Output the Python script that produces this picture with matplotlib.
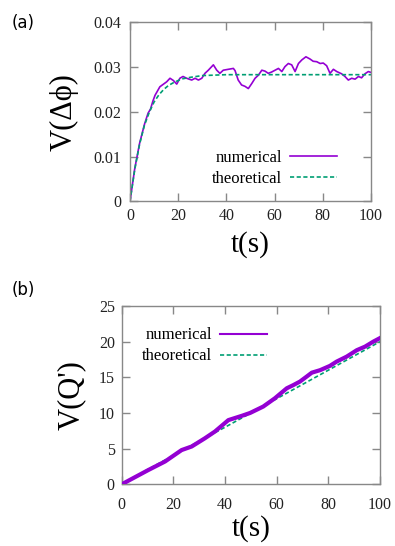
import matplotlib
matplotlib.use("Agg")
import matplotlib.pyplot as plt

plt.rcParams['font.family'] = ['Liberation Serif', 'DejaVu Serif']

# panel (a): variance of the phase difference
t_num_a = [0, 2, 4, 6, 7.5, 8.5, 9.5, 10.4, 12.4, 15.2, 16.6, 18, 19.4, 20.7, 22, 23.5,
           25.6, 27, 28.4, 29.8, 31.1, 32.5, 34.6, 36, 37.3, 38.7, 40.8, 42.9, 43.6,
           44.9, 46.3, 47.7, 49.1, 50.5, 51.9, 53.3, 54.7, 56, 57.4, 58.8, 60.2, 61.6,
           63, 64.3, 65.7, 67.1, 68.5, 69.9, 71.3, 73, 74.7, 76, 77.5, 78.9, 80.2, 81.6,
           83, 84.4, 85.8, 87.8, 89.2, 90.6, 92, 93.4, 94.8, 96.1, 97.5, 98.9, 100]
v_num_a = [0, 0.0074, 0.0130, 0.0172, 0.0197, 0.0206, 0.0224, 0.0237, 0.0256, 0.0267,
           0.0275, 0.0270, 0.0262, 0.0275, 0.0279, 0.0275, 0.0271, 0.0275, 0.0271,
           0.0275, 0.0286, 0.0293, 0.0305, 0.0293, 0.0286, 0.0293, 0.0295, 0.0297,
           0.0292, 0.0271, 0.0260, 0.0257, 0.0252, 0.0263, 0.0275, 0.0282, 0.0293,
           0.0291, 0.0286, 0.0289, 0.0293, 0.0297, 0.0290, 0.0301, 0.0308, 0.0305,
           0.0290, 0.0308, 0.0316, 0.0323, 0.0318, 0.0313, 0.0312, 0.0308, 0.0309,
           0.0303, 0.0286, 0.0295, 0.0290, 0.0285, 0.0279, 0.0271, 0.0275, 0.0273,
           0.0279, 0.0276, 0.0285, 0.0290, 0.0288]
t_th_a = [0, 2, 4, 6, 8, 10, 12, 14, 16, 18, 20, 22, 25, 30, 35, 40, 50, 60, 70, 80, 90, 100]
v_th_a = [0, 0.0072, 0.0128, 0.0170, 0.0199, 0.0222, 0.0238, 0.0250, 0.0259, 0.0265,
          0.0270, 0.0274, 0.0277, 0.0281, 0.0282, 0.0283, 0.0283, 0.0283, 0.0283,
          0.0283, 0.0283, 0.0283]

# panel (b): variance of Q'
t_num_b = [0, 10.3, 16.8, 23.2, 27.1, 32.2, 36.1, 41.3, 46.5, 49.7, 54.8, 59.3, 63.9,
           66.4, 69, 71.6, 73.6, 76.8, 80.6, 83.2, 87.1, 91, 94.2, 97.4, 100]
v_num_b = [0, 2.0, 3.2, 4.8, 5.3, 6.45, 7.4, 9.0, 9.6, 10.0, 10.9, 12.06, 13.46, 13.9,
           14.4, 15.1, 15.65, 16.0, 16.6, 17.2, 17.9, 18.8, 19.3, 20.0, 20.5]
t_th_b = [0, 10, 20, 30, 40, 50, 60, 70, 80, 90, 100]
v_th_b = [0, 2.05, 4.05, 6.05, 8.0, 10.0, 12.0, 14.0, 16.0, 18.0, 20.0]

xticks = [0, 20, 40, 60, 80, 100]
yticks_a = [0, 0.01, 0.02, 0.03, 0.04]
ylabels_a = ['0', '0.01', '0.02', '0.03', '0.04']
yticks_b = [0, 5, 10, 15, 20, 25]

purple = '#9400D3'
green = '#009E73'
gray = '#888888'


def style_axes(ax, ypad, xpad):
    for s in ax.spines.values():
        s.set_color(gray)
        s.set_linewidth(1.0)
    ax.tick_params(direction='in', top=True, right=True, length=6, width=1,
                   color=gray, labelsize=11.5, labelcolor='#222222')
    ax.tick_params(axis='y', pad=ypad)
    ax.tick_params(axis='x', pad=xpad)


fig = plt.figure(figsize=(3.95, 5.46), dpi=100)

ax1 = fig.add_axes([0.3291, 0.6313, 0.6101, 0.3278])
ax1.plot(t_num_a, v_num_a, color=purple, lw=1.2, label='numerical')
ax1.plot(t_th_a, v_th_a, color=green, lw=1.2, ls=(0, (2.5, 1.5)), label='theoretical')
ax1.set_xlim(0, 100)
ax1.set_ylim(0, 0.04)
ax1.set_xticks(xticks)
ax1.set_yticks(yticks_a)
ax1.set_yticklabels(ylabels_a)
style_axes(ax1, 6.5, 5)
ax1.set_xlabel('t(s)', fontsize=21)
ax1.xaxis.set_label_coords(0.5, -0.165)
ax1.set_ylabel('V(Δϕ)', fontsize=22)
ax1.yaxis.set_label_coords(-0.215, 0.5)
ax1.legend(loc='upper right', bbox_to_anchor=(0.859, 0.285), frameon=False,
           markerfirst=False, fontsize=12, handlelength=2.8, handletextpad=0.5,
           borderpad=0, borderaxespad=0, labelspacing=0.3)

ax2 = fig.add_axes([0.3081, 0.1130, 0.6539, 0.3266])
ax2.plot(t_th_b, v_th_b, color=green, lw=1.2, ls=(0, (2.5, 1.5)), label='theoretical', zorder=2)
ax2.plot(t_num_b, v_num_b, color=purple, lw=3.0, label='numerical', zorder=3)
ax2.set_xlim(0, 100)
ax2.set_ylim(0, 25)
ax2.set_xticks(xticks)
ax2.set_yticks(yticks_b)
style_axes(ax2, 5, 9)
ax2.set_xlabel('t(s)', fontsize=21)
ax2.xaxis.set_label_coords(0.5, -0.175)
ax2.set_ylabel("V(Q')", fontsize=22)
ax2.yaxis.set_label_coords(-0.14, 0.5)
h, l = ax2.get_legend_handles_labels()
leg = ax2.legend([h[1], h[0]], [l[1], l[0]], loc='upper right', bbox_to_anchor=(0.5625, 0.88),
                 frameon=False, markerfirst=False, fontsize=12, handlelength=2.8,
                 handletextpad=0.5, borderpad=0, borderaxespad=0, labelspacing=0.3)
leg.get_lines()[0].set_linewidth(1.5)

fig.text(0.03, 0.975, '(a)', fontsize=12, family='DejaVu Sans', va='top')
fig.text(0.03, 0.485, '(b)', fontsize=12, family='DejaVu Sans', va='top')

fig.savefig('out.png', dpi=100)
